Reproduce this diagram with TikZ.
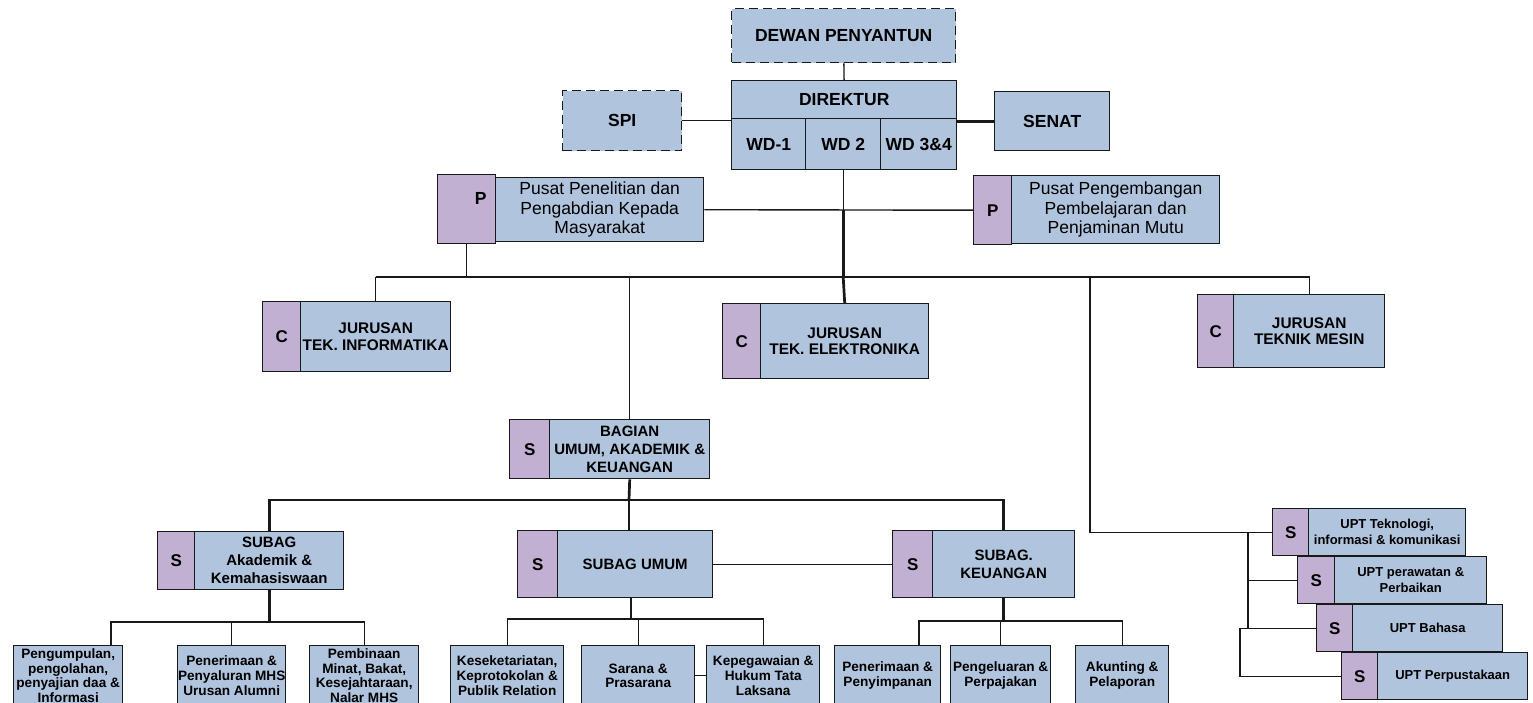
\documentclass[tikz,border=0pt]{standalone}
\usepackage{fontspec}
\setmainfont{Liberation Sans}
\definecolor{unitblue}{RGB}{176,196,222}
\definecolor{tagpurple}{RGB}{193,176,210}

\begin{document}
\begin{tikzpicture}[
  x=1pt, y=-1pt,
  unit/.style={draw=black!90, line width=1.4pt, fill=unitblue, anchor=north west,
    inner sep=0pt, align=center, font=\fontsize{17.5}{19.5}\selectfont\bfseries},
  tag/.style={unit, fill=tagpurple, font=\fontsize{17}{19}\selectfont\bfseries},
  dashbox/.style={unit, dash pattern=on 9pt off 5pt},
  pusat/.style={unit, font=\fontsize{17.5}{19.5}\selectfont},
  jur/.style={unit, font=\fontsize{15.4}{16.7}\selectfont\bfseries},
  sub/.style={unit, font=\fontsize{15}{18}\selectfont\bfseries},
  seksi/.style={unit, font=\fontsize{13.6}{14.7}\selectfont\bfseries},
  upt/.style={unit, font=\fontsize{13}{16}\selectfont\bfseries},
  link/.style={draw=black!90, line width=1.4pt},
  trunk/.style={link, line width=2.7pt}
]
\useasboundingbox (0,0) rectangle (1533,703);

% pimpinan
\node[dashbox, minimum width=224, minimum height=54] (dewan) at (731,8) {DEWAN PENYANTUN};
\node[unit, minimum width=225, minimum height=38] (direktur) at (731,80) {DIREKTUR};
\node[unit, minimum width=74, minimum height=51] (wd1) at (731,118) {WD-1};
\node[unit, minimum width=75, minimum height=51] (wd2) at (805,118) {WD 2};
\node[unit, minimum width=76, minimum height=51] (wd3) at (880,118) {WD 3\&4};
\node[dashbox, minimum width=119, minimum height=60] (spi) at (562,90) {SPI};
\node[unit, minimum width=115, minimum height=59] (senat) at (994,91) {SENAT};

% pusat
\node[tag, minimum width=58, minimum height=69,
  label={[font=\fontsize{17.5}{19.5}\selectfont\bfseries, xshift=14, yshift=10.5]center:P}] (litP) at (437,174) {};
\node[pusat, minimum width=208, minimum height=64] (lit) at (495,177) {Pusat Penelitian dan\\Pengabdian Kepada\\Masyarakat};
\node[tag, minimum width=38, minimum height=69] (mutuP) at (973,175) {P};
\node[pusat, minimum width=208, minimum height=68] (mutu) at (1011,175) {Pusat Pengembangan\\Pembelajaran dan\\Penjaminan Mutu};

% jurusan
\node[tag, minimum width=38, minimum height=70] (infC) at (262,301) {C};
\node[jur, minimum width=150, minimum height=70] (inf) at (300,301) {JURUSAN\\TEK. INFORMATIKA};
\node[tag, minimum width=38, minimum height=75] (elkC) at (722,303) {C};
\node[jur, minimum width=168, minimum height=75] (elk) at (760,303) {JURUSAN\\TEK. ELEKTRONIKA};
\node[tag, minimum width=36, minimum height=73] (mesC) at (1197,294) {C};
\node[jur, minimum width=151, minimum height=73] (mes) at (1233,294) {JURUSAN\\TEKNIK MESIN};

% bagian dan subbagian
\node[tag, minimum width=40, minimum height=59] (bagS) at (509,419) {S};
\node[sub, minimum width=160, minimum height=59] (bag) at (549,419) {BAGIAN\\UMUM, AKADEMIK \&\\KEUANGAN};
\node[tag, minimum width=37, minimum height=58] (akdS) at (157,531) {S};
\node[sub, minimum width=149, minimum height=58] (akd) at (194,531) {SUBAG\\Akademik \&\\Kemahasiswaan};
\node[tag, minimum width=40, minimum height=67] (umS) at (517,530) {S};
\node[sub, minimum width=155, minimum height=67] (um) at (557,530) {SUBAG UMUM};
\node[tag, minimum width=40, minimum height=67] (keuS) at (892,530) {S};
\node[sub, minimum width=142, minimum height=67] (keu) at (932,530) {SUBAG.\\KEUANGAN};

% urusan
\node[seksi, minimum width=109, minimum height=60] (b1) at (13,645) {Pengumpulan,\\pengolahan,\\penyajian daa \&\\Informasi};
\node[seksi, minimum width=108, minimum height=60] (b2) at (177,645) {Penerimaan \&\\Penyaluran MHS\\Urusan Alumni};
\node[seksi, minimum width=109, minimum height=60] (b3) at (309,645) {Pembinaan\\Minat, Bakat,\\Kesejahtaraan,\\Nalar MHS};
\node[seksi, minimum width=113, minimum height=60] (b4) at (450,645) {Keseketariatan,\\Keprotokolan \&\\Publik Relation};
\node[seksi, minimum width=113, minimum height=60] (b5) at (581,645) {Sarana \&\\Prasarana};
\node[seksi, minimum width=113, minimum height=60] (b6) at (706,645) {Kepegawaian \&\\Hukum Tata\\Laksana};
\node[seksi, minimum width=106, minimum height=60] (b7) at (834,645) {Penerimaan \&\\Penyimpanan};
\node[seksi, minimum width=100, minimum height=60] (b8) at (950,645) {Pengeluaran \&\\Perpajakan};
\node[seksi, minimum width=93, minimum height=60] (b9) at (1075,645) {Akunting \&\\Pelaporan};

% upt
\node[tag, minimum width=36, minimum height=47] (tikS) at (1272,508) {S};
\node[upt, minimum width=157, minimum height=47] (tik) at (1308,508) {UPT Teknologi,\\informasi \& komunikasi};
\node[tag, minimum width=37, minimum height=47] (rawS) at (1297,556) {S};
\node[upt, minimum width=152, minimum height=47] (raw) at (1334,556) {UPT perawatan \&\\Perbaikan};
\node[tag, minimum width=36, minimum height=47] (bhsS) at (1316,604) {S};
\node[upt, minimum width=150, minimum height=47] (bhs) at (1352,604) {UPT Bahasa};
\node[tag, minimum width=36, minimum height=47] (pusS) at (1341,652) {S};
\node[upt, minimum width=150, minimum height=47] (pus) at (1377,652) {UPT Perpustakaan};

% garis komando
\draw[link] (dewan) -- (direktur);
\draw[link] (spi.east) -- (spi.east -| direktur.west);
\draw[trunk] (senat.west) -- (senat.west -| direktur.east);
\coordinate (hub) at (wd2.south |- lit.east);
\coordinate (bus) at (wd2.south |- 0,277);
\coordinate (busL) at (inf.north |- bus);
\coordinate (busR) at (1090,277);
\draw[link] (wd2.south) -- (hub);
\draw[link] (lit.east) -- (mutuP.west);
\draw[trunk] (hub) -- (bus);
\draw[trunk] (busL) -- (busR);
\draw[link] (busR) -| (mes.north);
\draw[link] (busL) -- (inf.north);
\draw[link] (litP.south) -- (litP.south |- bus);
\draw[trunk] (bus) -- (elk.north);
\draw[link] (bag.north |- bus) -- (bag.north);

\coordinate (bus2) at (629,500);
\draw[trunk] (bag.south) -- (bus2);
\draw[trunk] (akd.north) |- (bus2) -| (keu.north);
\draw[link] (bus2) -- (bus2 |- um.north);
\draw[link] (um.east) -- (keuS.west);

\coordinate (akdBus) at (akd.south |- 0,622);
\draw[trunk] (akd.south) -- (akdBus);
\draw[link] (b1.north -| 111,0) |- (akdBus) -| (b3.north);
\draw[link] (b2.north) -- (b2.north |- akdBus);

\coordinate (umBus) at (631,619);
\draw[trunk] (um.south -| umBus) -- (umBus);
\draw[link] (b4.north) |- (umBus) -| (b6.north);
\draw[link] (b5.north) -- (b5.north |- umBus);
\draw[link] (b5.east) -- (b6.west);

\coordinate (keuBus) at (keu.south |- 0,621);
\draw[trunk] (keu.south) -- (keuBus);
\draw[link] (b7.north -| 919,0) |- (keuBus) -| (b9.north);
\draw[link] (b8.north) -- (b8.north |- keuBus);

\draw[link] (busR) |- (tikS.west);
\draw[link] (tikS.west -| 1248,0) -- (bhsS.west -| 1248,0);
\draw[link] (rawS.west) -- (rawS.west -| 1248,0);
\draw[link] (bhsS.west) -- (bhsS.west -| 1240,0) |- (pusS.west);
\end{tikzpicture}
\end{document}
